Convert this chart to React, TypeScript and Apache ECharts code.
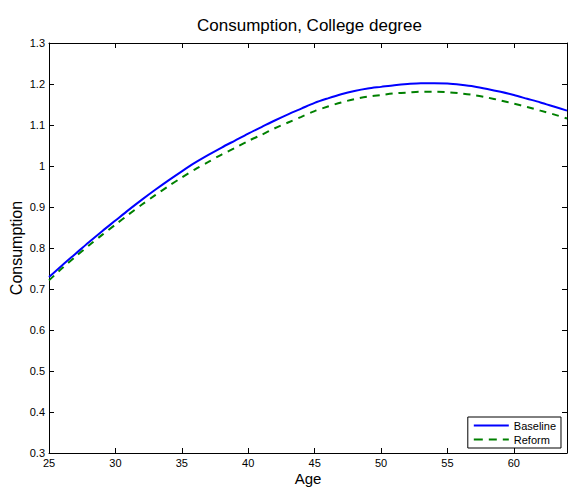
import React, { useEffect, useRef } from "react";
import * as echarts from "echarts";

const ages = [25, 26, 27, 28, 29, 30, 31, 32, 33, 34, 35, 36, 37, 38, 39, 40, 41, 42, 43, 44, 45, 46, 47, 48, 49, 50, 51, 52, 53, 54, 55, 56, 57, 58, 59, 60, 61, 62, 63, 64];
const baseline = [0.729, 0.758, 0.786, 0.814, 0.841, 0.867, 0.893, 0.918, 0.942, 0.965, 0.987, 1.008, 1.027, 1.045, 1.062, 1.079, 1.095, 1.111, 1.126, 1.140, 1.154, 1.165, 1.175, 1.183, 1.189, 1.193, 1.197, 1.200, 1.202, 1.202, 1.201, 1.198, 1.194, 1.188, 1.181, 1.173, 1.164, 1.155, 1.145, 1.135];
const reform = [0.721, 0.751, 0.779, 0.806, 0.832, 0.857, 0.882, 0.906, 0.929, 0.951, 0.972, 0.992, 1.010, 1.028, 1.044, 1.061, 1.076, 1.092, 1.106, 1.120, 1.134, 1.145, 1.155, 1.163, 1.169, 1.173, 1.177, 1.179, 1.181, 1.181, 1.180, 1.177, 1.173, 1.167, 1.160, 1.152, 1.144, 1.135, 1.126, 1.116];
const seriesNames = ["Baseline", "Reform"];
const titleText = "Consumption, College degree";
const xName = "Age";
const yName = "Consumption";

const FONT = "'Liberation Sans', Arial, Helvetica, sans-serif";
const SOLID_ICON = "path://M0 0h35v2H0z";
const DASH_ICON = "path://M0 0h9v2H0z M15 0h8v2h-8z M29 0h6v2h-6z";

export default function App() {
  const ref = useRef<HTMLDivElement>(null);
  useEffect(() => {
    if (!ref.current) return;
    const chart = echarts.init(ref.current, null, { renderer: "svg" });
    const axisLine = { show: true, lineStyle: { color: "#000", width: 1 } };
    const tick = { show: true, inside: true, length: 5, lineStyle: { color: "#000", width: 1 } };
    chart.setOption({
      animation: false,
      backgroundColor: "#fff",
      title: {
        text: titleText,
        left: 192,
        top: 12,
        textStyle: { fontFamily: FONT, fontSize: 17, fontWeight: "normal", color: "#000" },
      },
      grid: { left: 49, right: 6, top: 43, bottom: 34, containLabel: false, outerBoundsMode: "none" },
      legend: {
        orient: "vertical",
        right: 12,
        bottom: 39,
        backgroundColor: "#fff",
        borderColor: "#000",
        borderWidth: 1,
        borderRadius: 0,
        padding: [3, 5, 3, 6],
        itemWidth: 35,
        itemHeight: 2,
        itemGap: 3,
        textStyle: { fontFamily: FONT, fontSize: 11, color: "#000" },
        data: [
          { name: seriesNames[0], icon: SOLID_ICON },
          { name: seriesNames[1], icon: DASH_ICON },
        ],
      },
      xAxis: [
        {
          type: "value",
          min: 25,
          max: 64,
          interval: 5,
          name: xName,
          nameLocation: "middle",
          nameGap: 18,
          nameMoveOverlap: false,
          nameTextStyle: { fontFamily: FONT, fontSize: 15, color: "#000" },
          axisLine,
          axisTick: tick,
          splitLine: { show: false },
          axisLabel: { fontFamily: FONT, fontSize: 11, color: "#000", margin: 4, showMaxLabel: false },
        },
        {
          type: "value",
          position: "top",
          min: 25,
          max: 64,
          interval: 5,
          axisLine,
          axisTick: tick,
          splitLine: { show: false },
          axisLabel: { show: false },
        },
      ],
      yAxis: [
        {
          type: "value",
          min: 0.3,
          max: 1.3,
          interval: 0.1,
          name: yName,
          nameLocation: "middle",
          nameGap: 25,
          nameMoveOverlap: false,
          nameTextStyle: { fontFamily: FONT, fontSize: 16, color: "#000" },
          axisLine,
          axisTick: tick,
          splitLine: { show: false },
          axisLabel: { fontFamily: FONT, fontSize: 11, color: "#000", margin: 4 },
        },
        {
          type: "value",
          position: "right",
          min: 0.3,
          max: 1.3,
          interval: 0.1,
          axisLine,
          axisTick: tick,
          splitLine: { show: false },
          axisLabel: { show: false },
        },
      ],
      series: [
        {
          name: seriesNames[0],
          type: "line",
          data: ages.map((a, i) => [a, baseline[i]]),
          showSymbol: false,
          symbol: "none",
          smooth: 0.3,
          lineStyle: { color: "#0000ff", width: 2 },
          itemStyle: { color: "#0000ff" },
        },
        {
          name: seriesNames[1],
          type: "line",
          data: ages.map((a, i) => [a, reform[i]]),
          showSymbol: false,
          symbol: "none",
          smooth: 0.3,
          lineStyle: { color: "#008000", width: 2, type: [7, 6] },
          itemStyle: { color: "#008000" },
        },
      ],
    });
    return () => chart.dispose();
  }, []);
  return (
    <div
      ref={ref}
      style={{ position: "fixed", left: 0, top: 0, width: 573, height: 487 }}
    />
  );
}
